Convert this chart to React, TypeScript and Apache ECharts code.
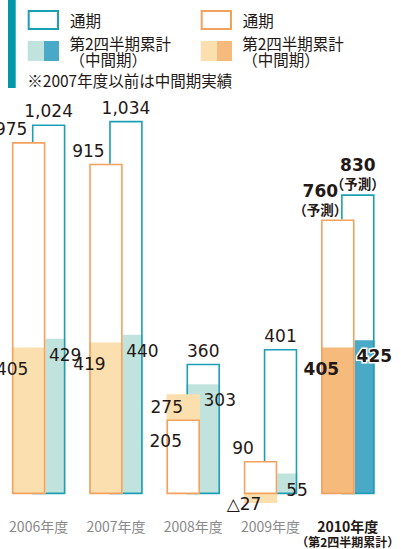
import React, { useEffect, useRef } from 'react';
import * as echarts from 'echarts';

// ---- data ----
const categories = ['2006年度', '2007年度', '2008年度', '2009年度', '2010年度'];
const orangeFull = [975, 915, 205, 90, 760];
const orangeHalf = [405, 419, 275, -27, 405];
const tealFull = [1024, 1034, 360, 401, 830];
const tealHalf = [429, 440, 303, 55, 425];
const isForecast = [false, false, false, false, true];
const forecastNote = '（予測）';
const lastSubLabel = '（第2四半期累計）';
const legendFull = '通期';
const legendHalf = ['第2四半期累計', '（中間期）'];
const footnote = '※2007年度以前は中間期実績';

// ---- styles ----
const C = {
  tealLine: '#1c9fb5',
  tealLight: '#c1e3de',
  tealDark: '#4ba9c8',
  orangeLine: '#f2a15f',
  orangeLight: '#fbdfae',
  orangeDark: '#f6bb7c',
  side: '#0097ab',
  text: '#231815',
  axis: '#8a8a8a',
};
const NUM_FONT = 'DejaVu Sans, "Noto Sans CJK JP", sans-serif';
const JP_FONT = '"Noto Sans CJK JP", sans-serif';
const BAR_W = 33.5;
const SHIFT = 20;
const LW = 1.6;

const fmt = (v: number) =>
  v < 0 ? '△' + Math.abs(v).toLocaleString('en-US') : v.toLocaleString('en-US');

export default function App() {
  const ref = useRef<HTMLDivElement>(null);

  useEffect(() => {
    if (!ref.current) return;
    const chart = echarts.init(ref.current, null, { renderer: 'svg' });

    const renderItem = (params: any, api: any) => {
      const i = api.value(0);
      const oF = api.value(1);
      const oH = api.value(2);
      const tF = api.value(3);
      const tH = api.value(4);
      const fc = isForecast[i];
      const base = api.coord([i, 0]);
      const cx = base[0];
      const zeroY = base[1];
      const yOf = (v: number) => api.coord([i, v])[1];
      const oL = cx - (BAR_W + SHIFT) / 2;
      const tL = oL + SHIFT;
      const oc = oL + BAR_W / 2;
      const tc = tL + BAR_W / 2;
      const children: any[] = [];

      const rectFor = (left: number, v: number) => {
        const y = yOf(v);
        return { x: left, y: Math.min(y, zeroY), width: BAR_W, height: Math.abs(zeroY - y) };
      };
      const bars = (left: number, full: number, half: number, fill: string, line: string) => {
        const fr = rectFor(left, full);
        const hr = rectFor(left, half);
        children.push({ type: 'rect', shape: fr, style: { fill: '#fff' } });
        children.push({ type: 'rect', shape: hr, style: { fill } });
        children.push({
          type: 'rect',
          shape: { x: fr.x + LW / 2, y: fr.y + LW / 2, width: fr.width - LW, height: fr.height - LW / 2 },
          style: { fill: full < half ? '#fff' : 'none', stroke: line, lineWidth: LW },
        });
      };
      bars(tL, tF, tH, fc ? C.tealDark : C.tealLight, C.tealLine);
      bars(oL, oF, oH, fc ? C.orangeDark : C.orangeLight, C.orangeLine);

      const txt = (x: number, y: number, text: string, opts: any = {}) => ({
        type: 'text',
        z2: 20,
        style: {
          x,
          y,
          text,
          fill: C.text,
          fontSize: opts.size || 17,
          fontFamily: opts.family || NUM_FONT,
          fontWeight: fc ? 'bold' : 'normal',
          align: 'center',
          verticalAlign: 'middle',
          stroke: opts.halo ? '#fff' : undefined,
          lineWidth: opts.halo ? 3 : 0,
        },
      });

      // full-year labels
      const fullLabel = (x: number, full: number, half: number) => {
        const top = yOf(full);
        if (full < half) {
          children.push(txt(x, top + 21, fmt(full)));
        } else if (fc) {
          children.push(txt(x, top - 29, fmt(full)));
          children.push(txt(x, top - 11, forecastNote, { size: 13.5, family: JP_FONT }));
        } else {
          children.push(txt(x, top - 13, fmt(full)));
        }
      };
      fullLabel(tc, tF, tH);
      fullLabel(oc - 17.5, oF, oH);

      // half-year labels
      const oTop = yOf(oH);
      const oY = oH < 0 ? oTop + 1 : oF < oH ? oTop + 13 : oTop + 22;
      children.push(txt(oc - 16.5, oY, fmt(oH)));
      children.push(txt(tc + 16.5, yOf(tH) + 16, fmt(tH), { halo: fc }));

      return { type: 'group', children };
    };

    const legendBlock = (x0: number, tx: number, line: string, light: string, dark: string) => [
      {
        type: 'rect',
        shape: { x: x0 + 1, y: 11, width: 29.3, height: 18 },
        style: { fill: '#fff', stroke: line, lineWidth: 2 },
      },
      { type: 'rect', shape: { x: x0, y: 41, width: 16.3, height: 20 }, style: { fill: light } },
      { type: 'rect', shape: { x: x0 + 16.3, y: 41, width: 15, height: 20 }, style: { fill: dark } },
      {
        type: 'text',
        x: tx,
        y: 20,
        style: { text: legendFull, fill: C.text, fontSize: 15.5, fontFamily: JP_FONT, verticalAlign: 'middle' },
      },
      {
        type: 'text',
        x: tx - 0.5,
        y: 51,
        style: {
          text: legendHalf[0] + '\n' + legendHalf[1],
          fill: C.text,
          fontSize: 15.5,
          lineHeight: 16,
          fontFamily: JP_FONT,
          verticalAlign: 'middle',
        },
      },
    ];

    const option: any = {
      animation: false,
      backgroundColor: '#fff',
      grid: { left: -5.5, right: 6.5, top: 97, bottom: 34 },
      xAxis: {
        type: 'category',
        data: categories,
        axisLine: { show: false },
        axisTick: { show: false },
        axisLabel: {
          interval: 0,
          margin: 2,
          formatter: (v: string, idx: number) =>
            isForecast[idx] ? `{b|${v}}\n{s|${lastSubLabel}}` : `{n|${v}}`,
          rich: {
            n: { fontSize: 14, fontFamily: JP_FONT, color: C.axis, lineHeight: 17 },
            b: { fontSize: 14, fontFamily: JP_FONT, color: C.text, fontWeight: 'bold', lineHeight: 17 },
            s: { fontSize: 12, fontFamily: JP_FONT, color: C.text, fontWeight: 'bold', lineHeight: 15 },
          },
        },
      },
      yAxis: { type: 'value', min: -60, max: 1100, show: false, splitLine: { show: false } },
      series: [
        {
          type: 'custom',
          clip: false,
          renderItem,
          encode: { x: 0, y: [1, 2, 3, 4] },
          data: categories.map((_, i) => [i, orangeFull[i], orangeHalf[i], tealFull[i], tealHalf[i]]),
        },
      ],
      graphic: [
        { type: 'rect', shape: { x: 8, y: 0, width: 7.7, height: 88 }, style: { fill: C.side } },
        ...legendBlock(27.7, 70, C.tealLine, C.tealLight, C.tealDark),
        ...legendBlock(200.7, 242.7, C.orangeLine, C.orangeLight, C.orangeDark),
        {
          type: 'text',
          x: 27.3,
          y: 80,
          style: { text: footnote, fill: C.text, fontSize: 15.5, fontFamily: JP_FONT, verticalAlign: 'middle' },
        },
      ],
    };

    chart.setOption(option);
    return () => chart.dispose();
  }, []);

  return (
    <div
      ref={ref}
      style={{ position: 'fixed', left: 0, top: 0, width: 401, height: 549, background: '#fff' }}
    />
  );
}
